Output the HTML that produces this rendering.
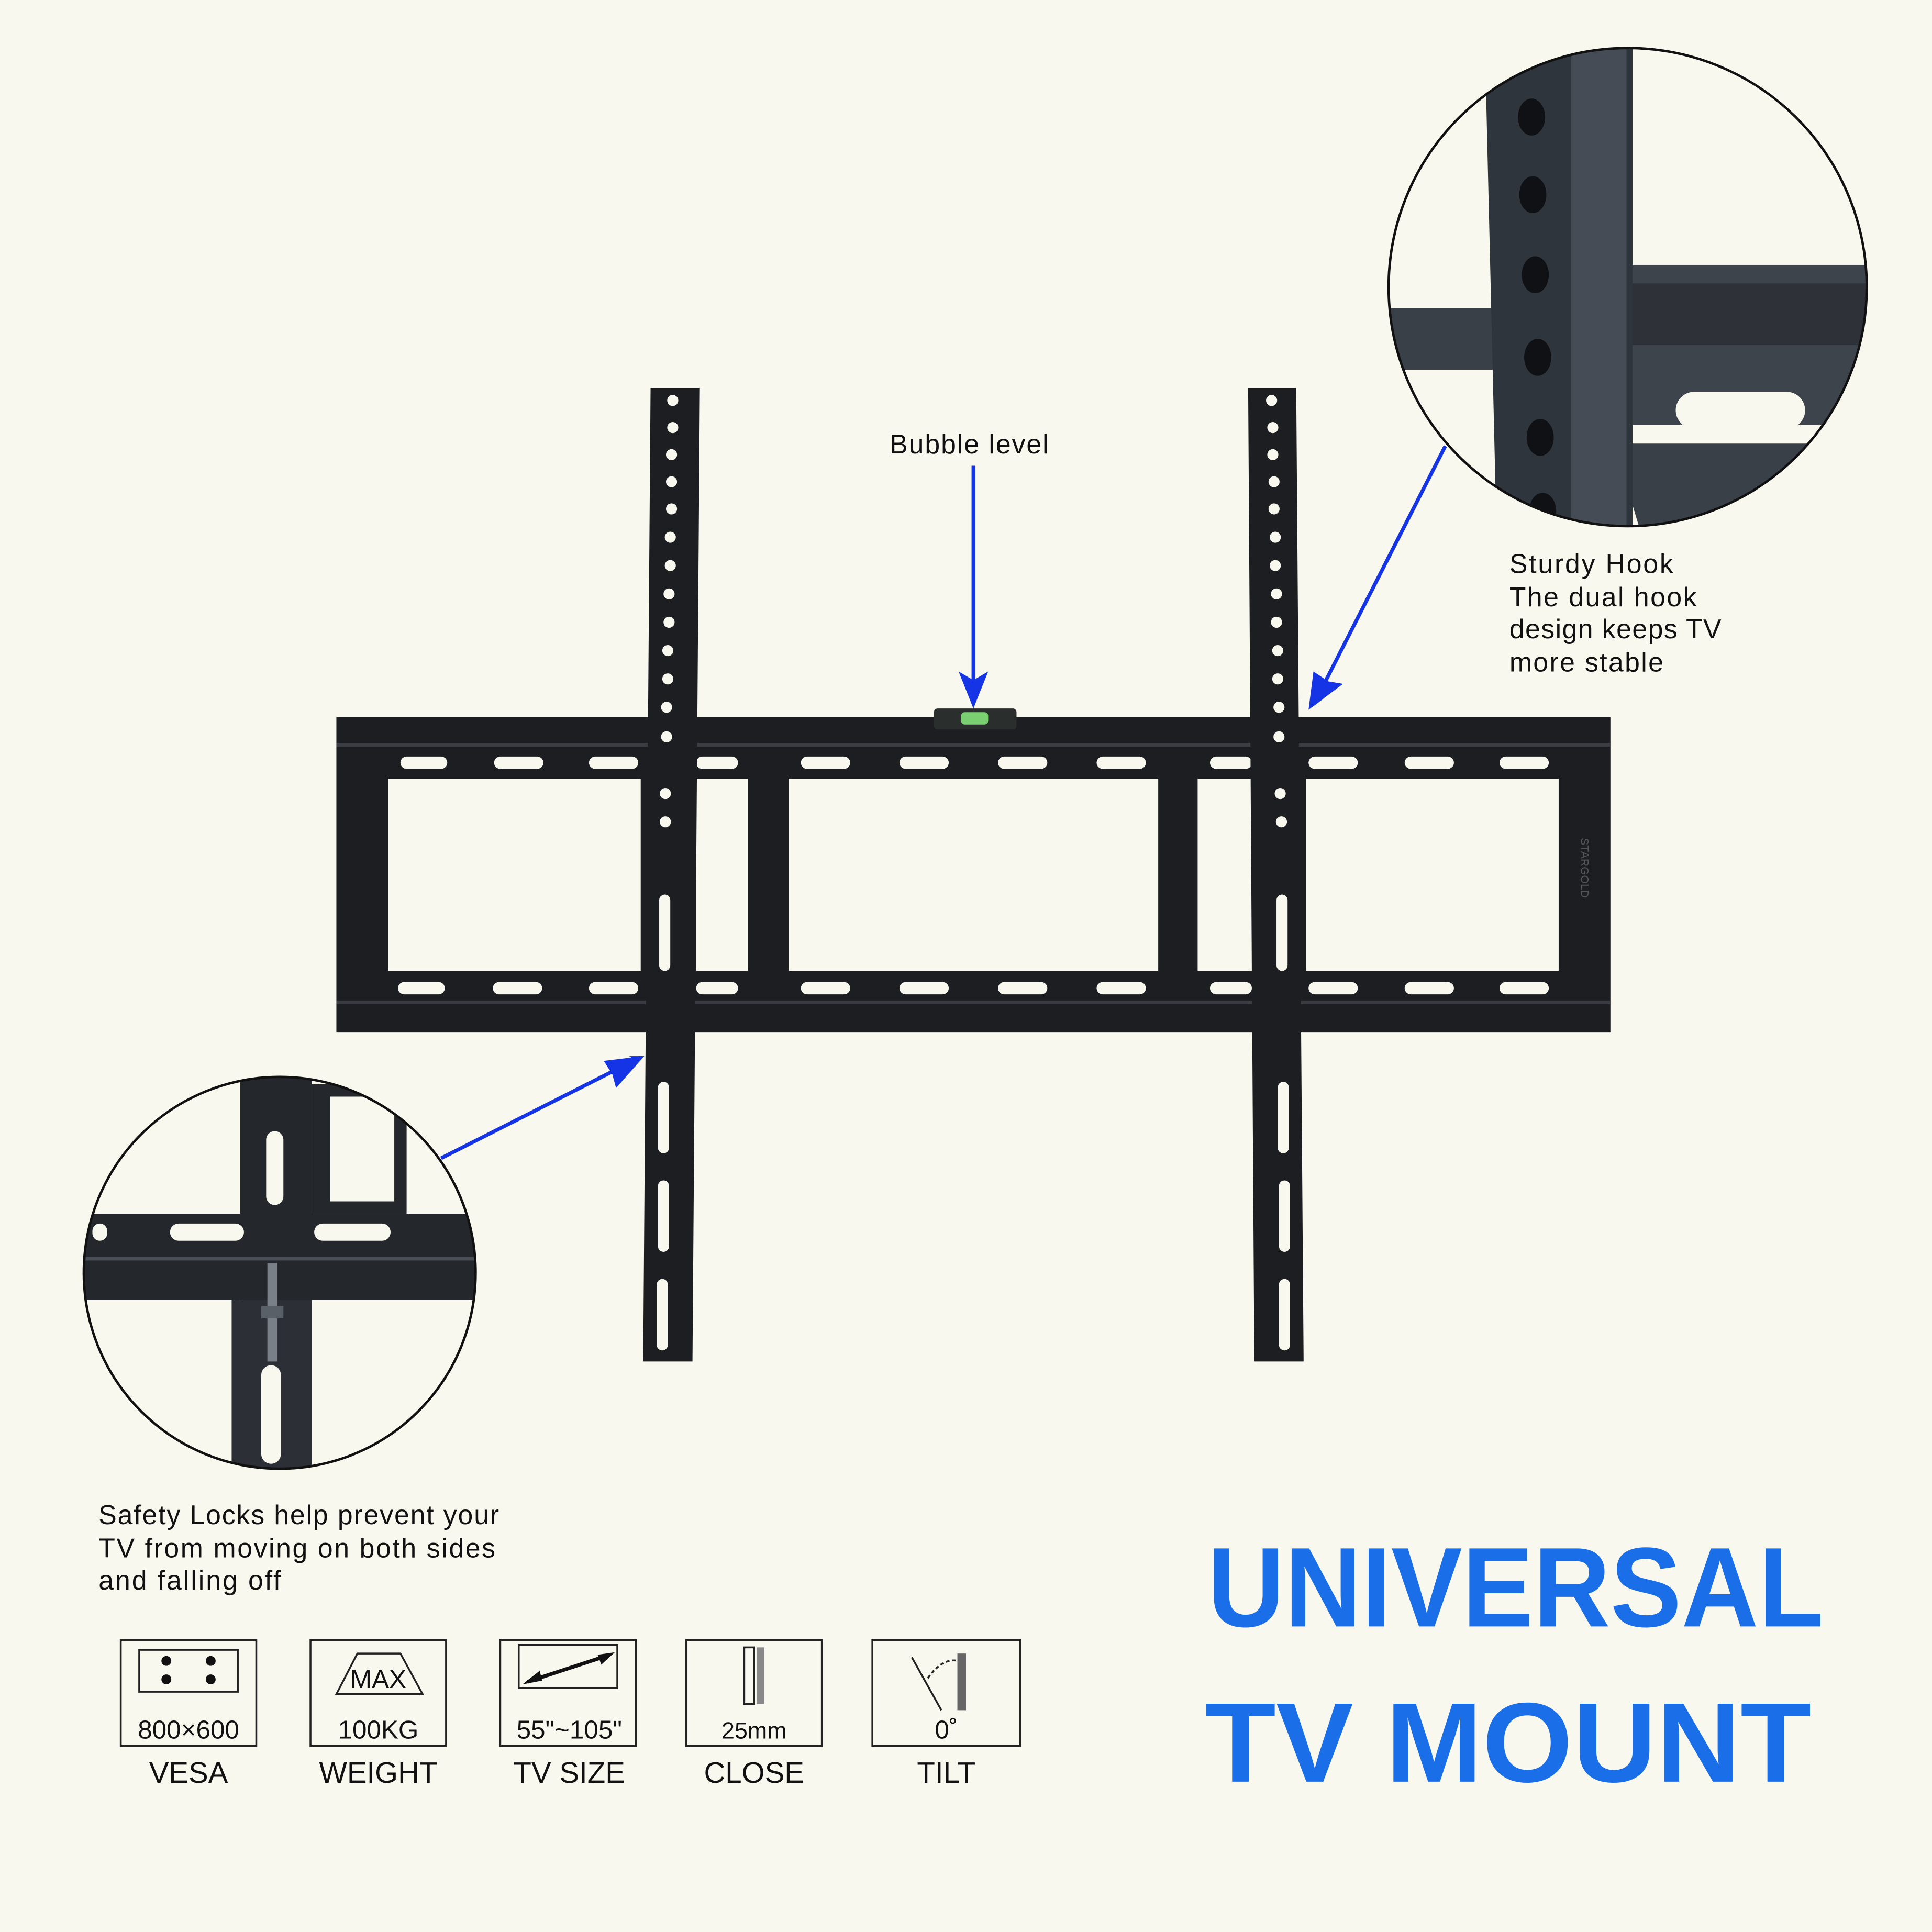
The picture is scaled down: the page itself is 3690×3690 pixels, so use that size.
<!DOCTYPE html>
<html><head><meta charset="utf-8"><style>
html,body{margin:0;padding:0;background:#f8f8ee;}
svg{display:block;}
text{font-family:"Liberation Sans","DejaVu Sans",sans-serif;}
</style></head><body>
<svg width="3690" height="3690" viewBox="0 0 1568 1568" xmlns="http://www.w3.org/2000/svg">
<defs>
<marker id="ah" markerWidth="10" markerHeight="10" refX="8" refY="5" orient="auto" markerUnits="userSpaceOnUse" viewBox="0 0 10 10">
<path d="M0,0 L10,5 L0,10 L3,5 z" fill="#1434e6"/></marker>
<clipPath id="c1"><circle cx="1321" cy="233" r="194"/></clipPath>
<clipPath id="c2"><circle cx="227" cy="1033" r="159"/></clipPath>
</defs>
<rect width="1568" height="1568" fill="#f8f8ee"/>

<path fill-rule="evenodd" fill="#1c1e22" d="M273,582 L1307,582 L1307,838 L273,838 Z
M315,632 L520,632 L520,788 L315,788 Z
M565,632 L607,632 L607,788 L565,788 Z
M640,632 L940,632 L940,788 L640,788 Z
M972,632 L1016,632 L1016,788 L972,788 Z
M1060,632 L1265,632 L1265,788 L1060,788 Z"/>
<rect x="273" y="603" width="1034" height="3" fill="#3a3d44"/>
<rect x="273" y="812" width="1034" height="3" fill="#3a3d44"/>
<g fill="#f8f8ee">
<rect x="325" y="614" width="38" height="10" rx="5"/><rect x="401" y="614" width="40" height="10" rx="5"/><rect x="478" y="614" width="40" height="10" rx="5"/>
<rect x="565" y="614" width="34" height="10" rx="5"/><rect x="650" y="614" width="40" height="10" rx="5"/><rect x="730" y="614" width="40" height="10" rx="5"/>
<rect x="810" y="614" width="40" height="10" rx="5"/><rect x="890" y="614" width="40" height="10" rx="5"/><rect x="982" y="614" width="34" height="10" rx="5"/>
<rect x="1062" y="614" width="40" height="10" rx="5"/><rect x="1140" y="614" width="40" height="10" rx="5"/><rect x="1217" y="614" width="40" height="10" rx="5"/>
<rect x="323" y="797" width="38" height="10" rx="5"/><rect x="400" y="797" width="40" height="10" rx="5"/><rect x="478" y="797" width="40" height="10" rx="5"/>
<rect x="565" y="797" width="34" height="10" rx="5"/><rect x="650" y="797" width="40" height="10" rx="5"/><rect x="730" y="797" width="40" height="10" rx="5"/>
<rect x="810" y="797" width="40" height="10" rx="5"/><rect x="890" y="797" width="40" height="10" rx="5"/><rect x="982" y="797" width="34" height="10" rx="5"/>
<rect x="1062" y="797" width="40" height="10" rx="5"/><rect x="1140" y="797" width="40" height="10" rx="5"/><rect x="1217" y="797" width="40" height="10" rx="5"/>
</g>
<text x="1283" y="680" font-size="9" fill="#555" transform="rotate(90 1283 680)">STARGOLD</text>

<rect x="758" y="575" width="67" height="17" rx="3" fill="#2a2e2c"/>
<rect x="780" y="578" width="22" height="10" rx="3" fill="#7ad070"/>

<g fill="#1c1e22">
<path d="M528,315 L568,315 L562,1105 L522,1105 Z"/>
<path d="M1013,315 L1052,315 L1058,1105 L1018,1105 Z"/>
</g>
<g fill="#f8f8ee">
<circle cx="546" cy="325" r="4.5"/><circle cx="546" cy="347" r="4.5"/><circle cx="545" cy="369" r="4.5"/><circle cx="545" cy="391" r="4.5"/>
<circle cx="545" cy="413" r="4.5"/><circle cx="544" cy="436" r="4.5"/><circle cx="544" cy="459" r="4.5"/><circle cx="543" cy="482" r="4.5"/>
<circle cx="543" cy="505" r="4.5"/><circle cx="542" cy="528" r="4.5"/><circle cx="542" cy="551" r="4.5"/><circle cx="541" cy="574" r="4.5"/>
<circle cx="541" cy="598" r="4.5"/><circle cx="540" cy="644" r="4.5"/><circle cx="540" cy="667" r="4.5"/>
<rect x="535" y="726" width="9" height="62" rx="4.5"/>
<rect x="534" y="878" width="9" height="58" rx="4.5"/><rect x="534" y="958" width="9" height="58" rx="4.5"/><rect x="533" y="1038" width="9" height="58" rx="4.5"/>
<circle cx="1032" cy="325" r="4.5"/><circle cx="1033" cy="347" r="4.5"/><circle cx="1033" cy="369" r="4.5"/><circle cx="1034" cy="391" r="4.5"/>
<circle cx="1034" cy="413" r="4.5"/><circle cx="1035" cy="436" r="4.5"/><circle cx="1035" cy="459" r="4.5"/><circle cx="1036" cy="482" r="4.5"/>
<circle cx="1036" cy="505" r="4.5"/><circle cx="1037" cy="528" r="4.5"/><circle cx="1037" cy="551" r="4.5"/><circle cx="1038" cy="574" r="4.5"/>
<circle cx="1038" cy="598" r="4.5"/><circle cx="1039" cy="644" r="4.5"/><circle cx="1040" cy="667" r="4.5"/>
<rect x="1036" y="726" width="9" height="62" rx="4.5"/>
<rect x="1037" y="878" width="9" height="58" rx="4.5"/><rect x="1038" y="958" width="9" height="58" rx="4.5"/><rect x="1038" y="1038" width="9" height="58" rx="4.5"/>
</g>

<circle cx="1321" cy="233" r="195" fill="#f8f8ee"/>
<g clip-path="url(#c1)">
<rect x="1100" y="30" width="450" height="420" fill="#f8f8ee"/>
<rect x="1120" y="250" width="440" height="50" fill="#3a4048"/>
<rect x="1300" y="215" width="260" height="130" fill="#3e444c"/>
<rect x="1310" y="230" width="250" height="50" fill="#2e3238"/>
<rect x="1360" y="318" width="105" height="30" rx="15" fill="#f8f8ee"/>
<path d="M1310,360 L1560,360 L1560,460 L1340,460 Z" fill="#3a4048"/>
<path d="M1205,30 L1325,30 L1325,450 L1215,450 Z" fill="#2f353c"/>
<rect x="1275" y="30" width="45" height="420" fill="#454c55"/>
<g fill="#0f1114">
<ellipse cx="1243" cy="95" rx="11" ry="15"/><ellipse cx="1244" cy="158" rx="11" ry="15"/><ellipse cx="1246" cy="223" rx="11" ry="15"/>
<ellipse cx="1248" cy="290" rx="11" ry="15"/><ellipse cx="1250" cy="355" rx="11" ry="15"/><ellipse cx="1252" cy="415" rx="11" ry="15"/>
</g>
</g>
<circle cx="1321" cy="233" r="194" fill="none" stroke="#111" stroke-width="2"/>

<circle cx="227" cy="1033" r="160" fill="#f8f8ee"/>
<g clip-path="url(#c2)">
<rect x="195" y="860" width="58" height="350" fill="#24272c"/>
<path d="M253,880 L330,880 L330,985 L253,985 Z M268,890 L320,890 L320,975 L268,975 Z" fill="#24272c" fill-rule="evenodd"/>
<rect x="60" y="985" width="340" height="70" fill="#24272c"/>
<rect x="60" y="1020" width="340" height="3" fill="#4a4f57"/>
<rect x="188" y="1055" width="65" height="160" fill="#2c3036"/>
<rect x="216" y="918" width="14" height="60" rx="7" fill="#f8f8ee"/>
<rect x="138" y="993" width="60" height="14" rx="7" fill="#f8f8ee"/>
<rect x="255" y="993" width="62" height="14" rx="7" fill="#f8f8ee"/>
<rect x="75" y="993" width="12" height="14" rx="6" fill="#f8f8ee"/>
<rect x="212" y="1108" width="16" height="80" rx="8" fill="#f8f8ee"/>
<rect x="217" y="1025" width="8" height="80" fill="#7a8088"/>
<rect x="212" y="1060" width="18" height="10" fill="#5a6068"/>
</g>
<circle cx="227" cy="1033" r="159" fill="none" stroke="#111" stroke-width="2"/>

<g stroke="#1434e6" stroke-width="3" fill="none">
<line x1="790" y1="378" x2="790" y2="570" marker-end="url(#ah)"/>
<line x1="1173" y1="362" x2="1066" y2="572" marker-end="url(#ah)"/>
<line x1="358" y1="940" x2="520" y2="858" marker-end="url(#ah)"/>
</g>
<path d="M778,545 L790,575 L802,545 L790,552 Z" fill="#1434e6"/>
<path d="M1062,576 L1066,545 L1078,553 L1090,555 Z" fill="#1434e6"/>
<path d="M523,857 L490,861 L497,872 L500,883 Z" fill="#1434e6"/>

<g font-size="22" fill="#111" lengthAdjust="spacingAndGlyphs">
<text x="722" y="368" textLength="129">Bubble level</text>
<text x="1225" y="465" textLength="133">Sturdy Hook</text>
<text x="1225" y="492" textLength="152">The dual hook</text>
<text x="1225" y="518" textLength="172">design keeps TV</text>
<text x="1225" y="545" textLength="125">more stable</text>
<text x="80" y="1237" textLength="325">Safety Locks help prevent your</text>
<text x="80" y="1264" textLength="322">TV from moving on both sides</text>
<text x="80" y="1290" textLength="148">and falling off</text>
</g>

<g fill="none" stroke="#222" stroke-width="1.5">
<rect x="98" y="1331" width="110" height="86"/>
<rect x="252" y="1331" width="110" height="86"/>
<rect x="406" y="1331" width="110" height="86"/>
<rect x="557" y="1331" width="110" height="86"/>
<rect x="708" y="1331" width="120" height="86"/>
<rect x="113" y="1339" width="80" height="34"/>
<path d="M273,1375 L290,1342 L325,1342 L343,1375 Z"/>
<rect x="421" y="1335" width="80" height="35"/>
<rect x="604" y="1337" width="8" height="46"/>
<line x1="740" y1="1345" x2="764" y2="1388"/>
<path d="M753,1362 Q765,1345 778,1348" stroke-dasharray="3,2"/>
</g>
<g fill="#111">
<circle cx="135" cy="1348" r="4"/><circle cx="171" cy="1348" r="4"/><circle cx="135" cy="1363" r="4"/><circle cx="171" cy="1363" r="4"/>
<rect x="614" y="1337" width="6" height="46" fill="#888"/>
<rect x="777" y="1342" width="7" height="46" fill="#666"/>
</g>
<line x1="428" y1="1365" x2="495" y2="1343" stroke="#111" stroke-width="3"/>
<path d="M424,1367 L438,1356 L440,1364 Z M499,1341 L485,1343 L488,1351 Z" fill="#111"/>
<g font-size="21" fill="#111" text-anchor="middle">
<text x="153" y="1411">800×600</text>
<text x="307" y="1370">MAX</text>
<text x="307" y="1411">100KG</text>
<text x="462" y="1411">55"~105"</text>
<text x="612" y="1411" font-size="19">25mm</text>
<text x="768" y="1411">0˚</text>
</g>
<g font-size="24" fill="#111" text-anchor="middle">
<text x="153" y="1447">VESA</text>
<text x="307" y="1447">WEIGHT</text>
<text x="462" y="1447">TV SIZE</text>
<text x="612" y="1447">CLOSE</text>
<text x="768" y="1447">TILT</text>
</g>

<g font-size="92" font-weight="bold" fill="#1a6fe8">
<text x="980" y="1320" textLength="500" lengthAdjust="spacingAndGlyphs">UNIVERSAL</text>
<text x="978" y="1446" textLength="492" lengthAdjust="spacingAndGlyphs">TV MOUNT</text>
</g>
</svg>
</body></html>
